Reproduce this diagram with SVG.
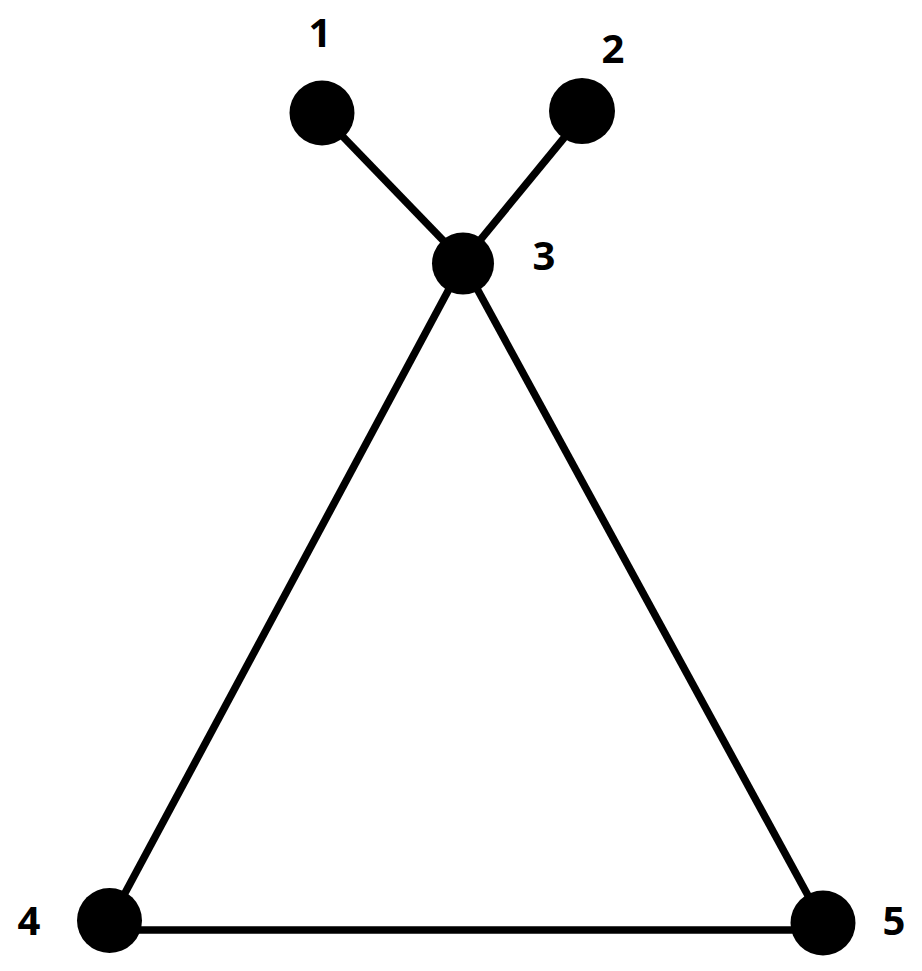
<svg xmlns="http://www.w3.org/2000/svg" width="922" height="971" viewBox="0 0 922 971">
<style>
.edge{stroke:#000;stroke-width:7.5;fill:none}
.node{fill:#000}
.lbl{font-family:"Open Sans","DejaVu Sans",sans-serif;font-weight:bold;font-size:40px;fill:#000;text-anchor:middle}
</style>
<rect width="922" height="971" fill="#fff"/>
<g id="edges">
<line class="edge" x1="322" y1="115" x2="463" y2="261"/>
<line class="edge" x1="582" y1="116" x2="463" y2="261"/>
<line class="edge" x1="463" y1="263" x2="110" y2="921"/>
<line class="edge" x1="463" y1="263" x2="823" y2="923"/>
<line class="edge" x1="110" y1="930" x2="823" y2="930"/>
</g>
<g id="n1"><circle class="node" cx="322" cy="113" r="32.5"/><text class="lbl" x="320" y="47">1</text></g>
<g id="n2"><circle class="node" cx="582" cy="111" r="33"/><text class="lbl" x="613" y="63">2</text></g>
<g id="n3"><circle class="node" cx="463" cy="263.5" r="31"/><text class="lbl" x="544" y="270">3</text></g>
<g id="n4"><circle class="node" cx="109.5" cy="920.5" r="32.5"/><text class="lbl" x="29" y="935">4</text></g>
<g id="n5"><circle class="node" cx="823" cy="923" r="32.5"/><text class="lbl" x="894" y="935">5</text></g>
</svg>
